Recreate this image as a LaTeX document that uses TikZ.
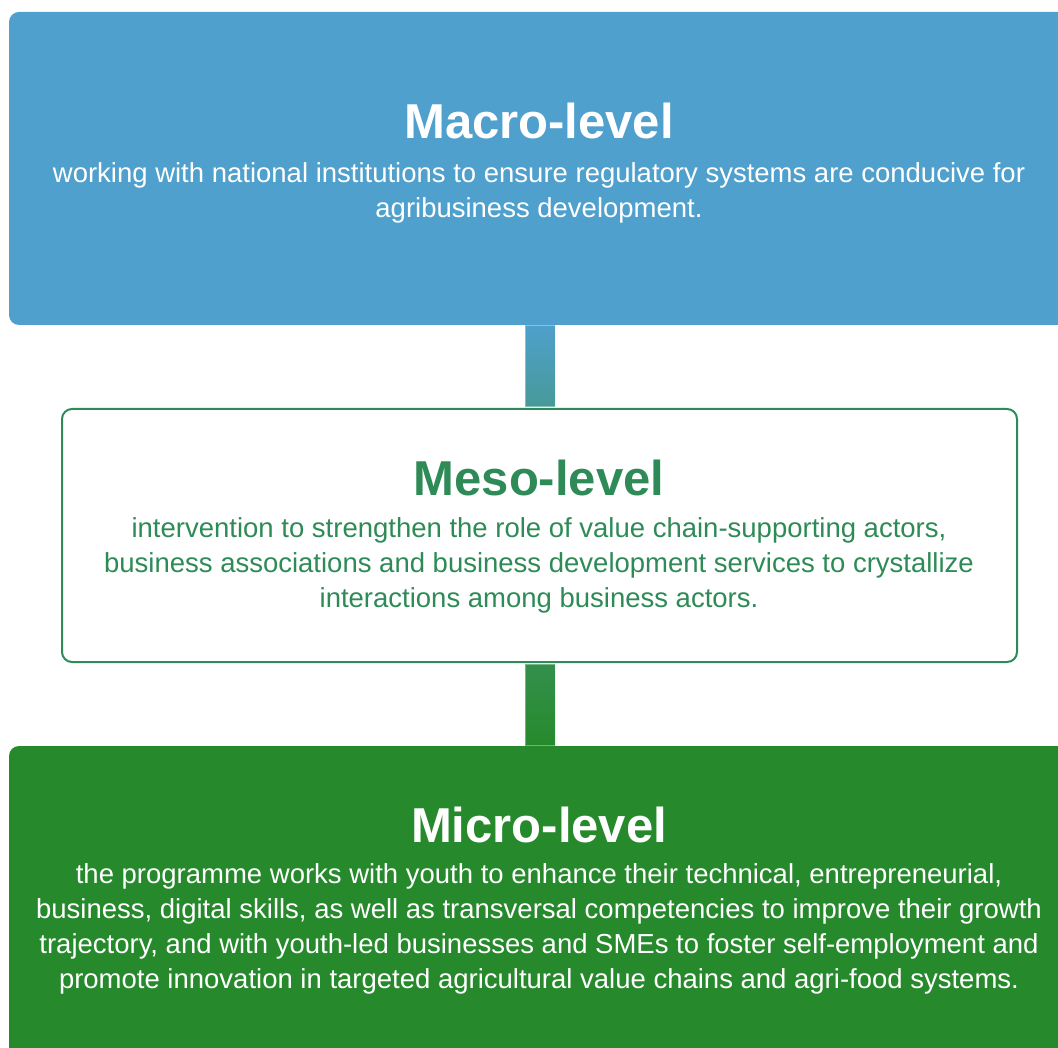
\documentclass[tikz,border=0pt]{standalone}
\usepackage{fontspec}
\setmainfont{Liberation Sans}
\usetikzlibrary{positioning}
\definecolor{macroblue}{HTML}{4FA0CC}
\definecolor{linkteal}{HTML}{479A98}
\definecolor{mesogreen}{HTML}{2E8B57}
\definecolor{linkgreen}{HTML}{33904C}
\definecolor{microgreen}{HTML}{268A2C}
\tikzset{%
  levelbox/.style={rectangle,rounded corners=10pt,inner sep=0pt},
  leveltitle/.style={font=\fontsize{49}{55}\selectfont\bfseries,anchor=base,inner sep=0pt},
  levelbody/.style={font=\fontsize{27.5}{35}\selectfont,align=center,anchor=base,inner sep=0pt},
  link/.style={draw=white,draw opacity=.35,line width=1pt}
}

\begin{document}
\begin{tikzpicture}[x=1pt,y=-1pt]
  \useasboundingbox (0,0) rectangle (1058,1048);
  \clip (0,0) rectangle (1058,1048);

  % the three levels
  \node[levelbox,fill=macroblue,minimum width=1061pt,minimum height=313pt] (macro) at (539.5,168.5) {};
  \node[levelbox,draw=mesogreen,line width=2pt,fill=white,minimum width=955pt,minimum height=253pt] (meso) at (539.5,535.5) {};
  \node[levelbox,fill=microgreen,minimum width=1061pt,minimum height=314pt] (micro) at (539.5,903) {};

  % links between levels
  \shade[top color=macroblue,bottom color=linkteal] ([xshift=-14.5pt]macro.south) rectangle ([xshift=15.5pt,yshift=1pt]meso.north);
  \draw[link] ([xshift=-14.5pt]macro.south) rectangle ([xshift=15.5pt,yshift=1pt]meso.north);
  \shade[top color=linkgreen,bottom color=microgreen] ([xshift=-14.5pt,yshift=-1pt]meso.south) rectangle ([xshift=15.5pt]micro.north);
  \draw[link] ([xshift=-14.5pt,yshift=-1pt]meso.south) rectangle ([xshift=15.5pt]micro.north);

  % texts (base of a body node is its last line)
  \node[leveltitle,text=white] (macroTitle) at (539,139) {Macro-level};
  \node[levelbody,text=white] (macroText) at ([yshift=-79pt]macroTitle.base)
    {working with national institutions to ensure regulatory systems are conducive for\\
     agribusiness development.};

  \node[leveltitle,text=mesogreen] (mesoTitle) at (539,495) {Meso-level};
  \node[levelbody,text=mesogreen] (mesoText) at ([yshift=-112pt]mesoTitle.base)
    {intervention to strengthen the role of value chain-supporting actors,\\
     business associations and business development services to crystallize\\
     interactions among business actors.};

  \node[leveltitle,text=white] (microTitle) at (539,842) {Micro-level};
  \node[levelbody,text=white] (microText) at ([yshift=-146pt]microTitle.base)
    {the programme works with youth to enhance their technical, entrepreneurial,\\
     business, digital skills, as well as transversal competencies to improve their growth\\
     trajectory, and with youth-led businesses and SMEs to foster self-employment and\\
     promote innovation in targeted agricultural value chains and agri-food systems.};
\end{tikzpicture}
\end{document}
